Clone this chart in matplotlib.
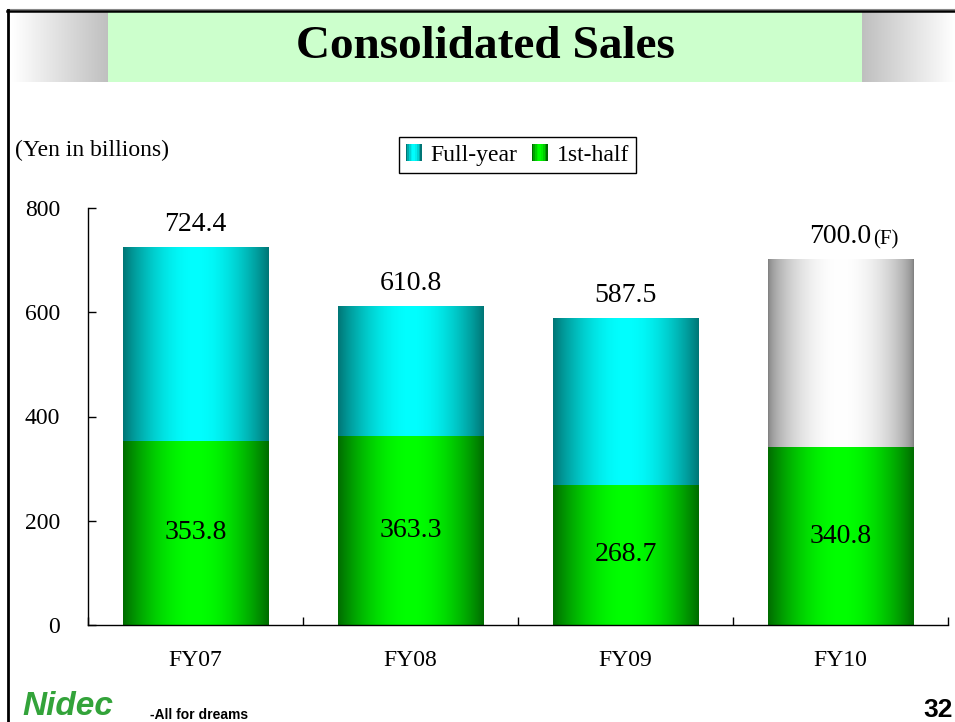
import numpy as np
import matplotlib
matplotlib.use("Agg")
import matplotlib.pyplot as plt
from matplotlib.patches import Rectangle, Patch
from matplotlib.legend_handler import HandlerBase

plt.rcParams['font.family'] = ['Liberation Serif', 'DejaVu Serif']

# data (Yen in billions)
years = ['FY07', 'FY08', 'FY09', 'FY10']
first_half = [353.8, 363.3, 268.7, 340.8]
full_year = [724.4, 610.8, 587.5, 700.0]
forecast = [False, False, False, True]

CYAN = ((0.0, 0.46, 0.46), (0.0, 1.0, 1.0))
GREEN = ((0.0, 0.42, 0.0), (0.0, 1.0, 0.0))
GRAY = ((0.50, 0.50, 0.50), (1.0, 1.0, 1.0))


def grad_row(edge, center, n=200, power=0.9):
    t = np.linspace(0, 1, n)
    w = np.sin(np.pi * t) ** power
    e = np.array(edge)
    c = np.array(center)
    return (e[None, :] + (c - e)[None, :] * w[:, None])[None, :, :]


def fill_bar(ax, patch, colors, power=0.9):
    x0, y0 = patch.get_x(), patch.get_y()
    x1, y1 = x0 + patch.get_width(), y0 + patch.get_height()
    ax.imshow(grad_row(*colors, power=power), extent=(x0, x1, y0, y1), aspect='auto',
              interpolation='bilinear', zorder=2)


class GradHandler(HandlerBase):
    def __init__(self, colors):
        super().__init__()
        self.colors = colors

    def create_artists(self, legend, orig_handle, xdescent, ydescent,
                       width, height, fontsize, trans):
        row = grad_row(*self.colors, n=10)[0]
        arts = []
        for i, c in enumerate(row):
            arts.append(Rectangle((-xdescent + i * width / len(row), -ydescent),
                                  width / len(row) * 1.05, height,
                                  facecolor=c, edgecolor='none', transform=trans))
        return arts


fig = plt.figure(figsize=(9.55, 7.22), dpi=100)

# page decoration, in pixel coordinates
bg = fig.add_axes([0, 0, 1, 1], zorder=-1)
bg.axis('off')
bg.imshow(np.linspace([1, 1, 1], [0.75, 0.75, 0.75], 100)[None, :, :],
          extent=(12, 108, 82, 12), aspect='auto')
bg.imshow(np.linspace([0.75, 0.75, 0.75], [1, 1, 1], 100)[None, :, :],
          extent=(862, 955, 82, 12), aspect='auto')
bg.add_patch(Rectangle((108, 12), 754, 70, facecolor='#ccffcc', edgecolor='none'))
bg.plot([7, 955], [9, 9], color='#888888', lw=0.8)
bg.plot([7, 955], [11, 11], color='black', lw=1.8)
bg.plot([8, 8], [10, 722], color='black', lw=2.0)
bg.set_xlim(0, 955)
bg.set_ylim(722, 0)
bg.text(485, 47, 'Consolidated Sales', fontsize=34, fontweight='bold',
        ha='center', va='center')
bg.text(15, 150, '(Yen in billions)', fontsize=17, ha='left', va='center')
bg.text(953, 717, '32', fontsize=19, fontweight='bold', family='Liberation Sans',
        ha='right', va='baseline')
bg.text(22, 722, 'Nidec', fontsize=24, fontweight='bold', style='italic',
        family='Liberation Sans', color='#33a33a', ha='left', va='bottom')
bg.text(150, 722, '-All for dreams', fontsize=10, fontweight='bold',
        family='Liberation Sans', ha='left', va='bottom')

ax = fig.add_axes([88 / 955, 97 / 722, 860 / 955, 417 / 722])
x = np.arange(len(years))
second_half = [f - h for f, h in zip(full_year, first_half)]
width = 0.675

low = ax.bar(x, first_half, width, color='none', edgecolor='none')
high = ax.bar(x, second_half, width, bottom=first_half, color='none', edgecolor='none')
for p in low:
    fill_bar(ax, p, GREEN)
for p, fc in zip(high, forecast):
    if fc:
        fill_bar(ax, p, GRAY, power=0.6)
    else:
        fill_bar(ax, p, CYAN)

for xi, h in zip(x, first_half):
    ax.text(xi, h / 2, f'{h:.1f}', fontsize=20, ha='center', va='center', zorder=3)
for xi, f, fc in zip(x, full_year, forecast):
    t = ax.annotate(f'{f:.1f}', (xi, f), xytext=(0, 12), textcoords='offset points',
                    fontsize=20, ha='center', va='baseline')
    if fc:
        ax.annotate('(F)', xy=(1, 0), xycoords=t, xytext=(1, 0),
                    textcoords='offset points', fontsize=15, ha='left', va='bottom')

ax.set_xlim(-0.5, 3.5)
ax.set_ylim(0, 800)
ax.set_yticks([0, 200, 400, 600, 800])
ax.set_xticks(x)
ax.set_xticklabels(years)
ax.set_xticks(np.arange(-0.5, 4, 1), minor=True)
ax.tick_params(axis='y', direction='in', length=6, width=1, labelsize=17, pad=20)
ax.tick_params(axis='x', which='major', length=0, labelsize=17, pad=18)
ax.tick_params(axis='x', which='minor', direction='in', length=6, width=1)
for s in ['top', 'right']:
    ax.spines[s].set_visible(False)
for s in ['left', 'bottom']:
    ax.spines[s].set_linewidth(1.0)
ax.patch.set_alpha(0)

h_full = Patch(label='Full-year')
h_half = Patch(label='1st-half')
leg = fig.legend(handles=[h_full, h_half], loc='center',
                 bbox_to_anchor=(517.5 / 955, 1 - 155 / 722), ncol=2,
                 fontsize=17, frameon=True, fancybox=False, framealpha=1,
                 edgecolor='black', handlelength=0.68, handleheight=0.68,
                 handletextpad=0.38, columnspacing=0.6, borderpad=0.3,
                 borderaxespad=0,
                 handler_map={h_full: GradHandler(CYAN), h_half: GradHandler(GREEN)})
leg.get_frame().set_linewidth(1.0)

fig.savefig('out.png', dpi=100)
